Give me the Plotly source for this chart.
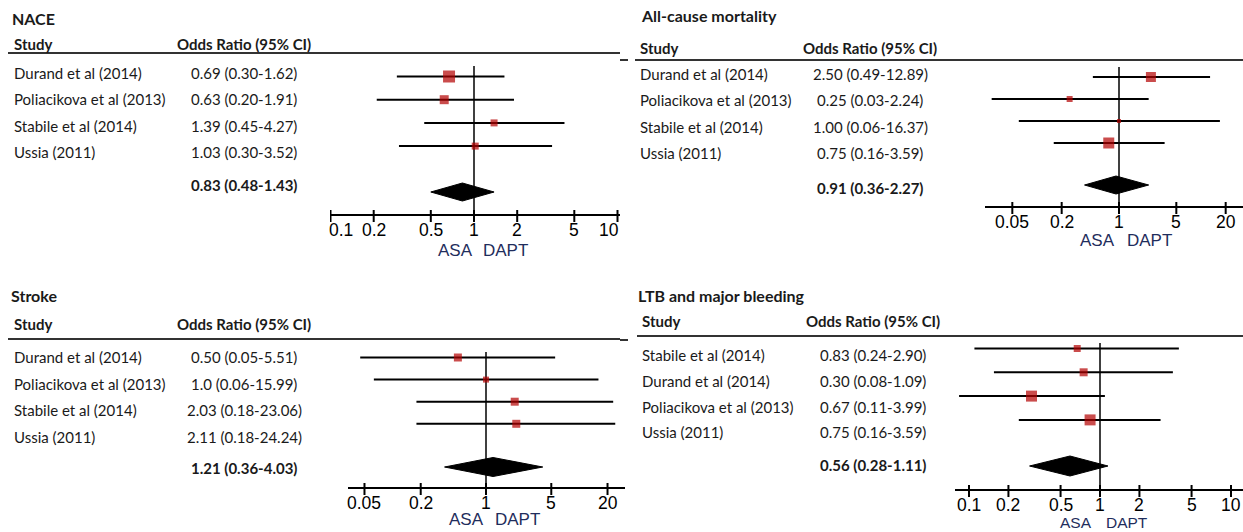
import math
import plotly.graph_objects as go

W, H = 1243, 532

# ---------------- data ----------------
tick_vals_a = [0.1, 0.2, 0.5, 1, 2, 5, 10]
tick_text_a = ["0.1", "0.2", "0.5", "1", "2", "5", "10"]
tick_vals_b = [0.05, 0.2, 1, 5, 20]
tick_text_b = ["0.05", "0.2", "1", "5", "20"]

# NACE
nace_studies = ["Durand et al (2014)", "Poliacikova et al (2013)", "Stabile et al (2014)", "Ussia (2011)"]
nace_labels = ["0.69 (0.30-1.62)", "0.63 (0.20-1.91)", "1.39 (0.45-4.27)", "1.03 (0.30-3.52)"]
nace_pooled_label = "0.83 (0.48-1.43)"
nace_or = [0.67, 0.62, 1.38, 1.02]
nace_lo = [0.29, 0.21, 0.45, 0.30]
nace_hi = [1.63, 1.90, 4.27, 3.50]
nace_pooled = [0.50, 0.83, 1.38]          # lower, estimate, upper

# All-cause mortality
mort_studies = ["Durand et al (2014)", "Poliacikova et al (2013)", "Stabile et al (2014)", "Ussia (2011)"]
mort_labels = ["2.50 (0.49-12.89)", "0.25 (0.03-2.24)", "1.00 (0.06-16.37)", "0.75 (0.16-3.59)"]
mort_pooled_label = "0.91 (0.36-2.27)"
mort_or = [2.45, 0.25, 1.00, 0.75]
mort_lo = [0.48, 0.028, 0.06, 0.16]
mort_hi = [12.9, 2.3, 17.0, 3.6]
mort_pooled = [0.38, 0.92, 2.3]

# Stroke
stroke_studies = ["Durand et al (2014)", "Poliacikova et al (2013)", "Stabile et al (2014)", "Ussia (2011)"]
stroke_labels = ["0.50 (0.05-5.51)", "1.0 (0.06-15.99)", "2.03 (0.18-23.06)", "2.11 (0.18-24.24)"]
stroke_pooled_label = "1.21 (0.36-4.03)"
stroke_or = [0.50, 1.00, 2.03, 2.11]
stroke_lo = [0.045, 0.063, 0.18, 0.18]
stroke_hi = [5.5, 16.0, 23.0, 24.2]
stroke_pooled = [0.36, 1.19, 4.05]

# LTB and major bleeding (plotted rows as drawn)
ltb_studies = ["Stabile et al (2014)", "Durand et al (2014)", "Poliacikova et al (2013)", "Ussia (2011)"]
ltb_labels = ["0.83 (0.24-2.90)", "0.30 (0.08-1.09)", "0.67 (0.11-3.99)", "0.75 (0.16-3.59)"]
ltb_pooled_label = "0.56 (0.28-1.11)"
ltb_or = [0.67, 0.75, 0.30, 0.84]
ltb_lo = [0.11, 0.155, 0.084, 0.24]
ltb_hi = [4.0, 3.6, 1.09, 2.9]
ltb_pooled = [0.29, 0.59, 1.15]

# ---------------- layout / style per panel ----------------
panels = [
    dict(title="NACE", studies=nace_studies, labels=nace_labels, pooled_label=nace_pooled_label,
         est=nace_or, lo=nace_lo, hi=nace_hi, pooled=nace_pooled,
         tv=tick_vals_a, tt=tick_text_a, sizes=[12, 9, 7, 7], end_shift=(10, -9),
         title_xy=(10, 18), study_x=12, col_cx=244, head_y=44, rule=(8, 620, 53), dash=None,
         text_y0=73, text_dy=26.3, pooled_text_y=185,
         ax_px=(330, 620), one_px=474, dec_px=143.5, axis_y=215,
         row_y0=76.5, row_dy=23.2, dia_y=192, dia_h=9, vtop=66, asa=(455, 505, 250), asa_size=17),
    dict(title="All-cause mortality", studies=mort_studies, labels=mort_labels, pooled_label=mort_pooled_label,
         est=mort_or, lo=mort_lo, hi=mort_hi, pooled=mort_pooled,
         tv=tick_vals_b, tt=tick_text_b, sizes=[10, 6, 4, 11], end_shift=(0, 0),
         title_xy=(639, 15), study_x=638, col_cx=870, head_y=48, rule=(635, 1243, 60), dash=(620, 628, 60),
         text_y0=74, text_dy=26.3, pooled_text_y=188,
         ax_px=(985, 1243), one_px=1119, dec_px=82.0, axis_y=207,
         row_y0=77, row_dy=22, dia_y=185, dia_h=9, vtop=67, asa=(1097, 1149, 240), asa_size=17),
    dict(title="Stroke", studies=stroke_studies, labels=stroke_labels, pooled_label=stroke_pooled_label,
         est=stroke_or, lo=stroke_lo, hi=stroke_hi, pooled=stroke_pooled,
         tv=tick_vals_b, tt=tick_text_b, sizes=[8, 6, 8, 8], end_shift=(0, 0),
         title_xy=(9, 295), step=None, study_x=12, col_cx=244, head_y=324, rule=(8, 620, 339), dash=None,
         text_y0=357, text_dy=26.7, pooled_text_y=468,
         ax_px=(348, 625), one_px=486, dec_px=93.4, axis_y=488,
         row_y0=357.5, row_dy=22.1, dia_y=467, dia_h=9.5, vtop=352, asa=(466, 517, 519), asa_size=17),
    dict(title="LTB and major bleeding", studies=ltb_studies, labels=ltb_labels, pooled_label=ltb_pooled_label,
         est=ltb_or, lo=ltb_lo, hi=ltb_hi, pooled=ltb_pooled,
         tv=tick_vals_a, tt=tick_text_a, sizes=[7, 8, 11, 11], end_shift=(0, 0),
         title_xy=(636, 295), study_x=640, col_cx=873, head_y=321, rule=(637, 1243, 336), dash=(620, 628, 340),
         text_y0=355, text_dy=25.8, pooled_text_y=465,
         ax_px=(955, 1243), one_px=1100, dec_px=131.0, axis_y=490,
         row_y0=348.5, row_dy=23.8, dia_y=466, dia_h=10, vtop=343, asa=(1076, 1127, 522), asa_size=15.5),
]

TEXT_FAMILY = "Lato, 'Open Sans', sans-serif"
TICK_FAMILY = "'Liberation Sans Narrow', 'Liberation Sans', Arial, sans-serif"
TEXT_COLOR = "#1a1a1a"
RED = "#B40000"
NAVY = "#1F2D5C"

fig = go.Figure()
annotations = []
shapes = []
layout_axes = {}

for i, p in enumerate(panels):
    n = i + 1
    sfx = "" if n == 1 else str(n)
    xa, ya = "x" + sfx, "y" + sfx
    l_px, r_px = p["ax_px"]
    rng = [(l_px - p["one_px"]) / p["dec_px"], (r_px - p["one_px"]) / p["dec_px"]]
    layout_axes["xaxis" + sfx] = dict(
        type="log", range=rng, domain=[l_px / W, r_px / W], anchor="free", position=1 - p["axis_y"] / H,
        showline=True, linecolor="black", linewidth=2, ticks="", showticklabels=False,
        showgrid=False, zeroline=False, fixedrange=True, automargin=False,
    )
    layout_axes["yaxis" + sfx] = dict(range=[H, 0], domain=[0, 1], anchor=xa, visible=False,
                                      fixedrange=True, automargin=False)

    rows_y = [p["row_y0"] + k * p["row_dy"] for k in range(len(p["est"]))]
    ay = p["axis_y"]

    # tick marks crossing the axis line
    tx_, ty_ = [], []
    for t in p["tv"]:
        tx_ += [t, t, None]
        ty_ += [ay - 5, ay + 7, None]
    fig.add_trace(go.Scatter(x=tx_, y=ty_, mode="lines", line=dict(color="black", width=2),
                             xaxis=xa, yaxis=ya, hoverinfo="skip", cliponaxis=False))
    # vertical line of no effect
    fig.add_trace(go.Scatter(x=[1, 1], y=[p["vtop"], ay], mode="lines",
                             line=dict(color="black", width=1.5), xaxis=xa, yaxis=ya, hoverinfo="skip"))
    # confidence intervals
    cx, cy = [], []
    for lo, hi, y in zip(p["lo"], p["hi"], rows_y):
        cx += [lo, hi, None]
        cy += [y, y, None]
    fig.add_trace(go.Scatter(x=cx, y=cy, mode="lines", line=dict(color="black", width=2),
                             xaxis=xa, yaxis=ya, hoverinfo="skip"))
    # point estimates
    fig.add_trace(go.Scatter(x=p["est"], y=rows_y, mode="markers",
                             marker=dict(symbol="square", size=p["sizes"], color=RED, line=dict(width=0)),
                             xaxis=xa, yaxis=ya, hoverinfo="skip"))
    # pooled diamond
    lo, est, hi = p["pooled"]
    dy, dh = p["dia_y"], p["dia_h"]
    fig.add_trace(go.Scatter(x=[lo, est, hi, est, lo], y=[dy, dy - dh, dy, dy + dh, dy],
                             mode="lines", fill="toself", fillcolor="black",
                             line=dict(color="black", width=1), xaxis=xa, yaxis=ya, hoverinfo="skip"))

    # tick labels
    for k, (t, lab) in enumerate(zip(p["tv"], p["tt"])):
        shift = 0
        if k == 0:
            shift = p["end_shift"][0]
        elif k == len(p["tv"]) - 1:
            shift = p["end_shift"][1]
        annotations.append(dict(x=math.log10(t), y=ay + 15, xref=xa, yref=ya, text=lab, showarrow=False,
                                xanchor="center", yanchor="middle", xshift=shift,
                                font=dict(family=TICK_FAMILY, size=17.5, color="black")))

    def ann(x, y, text, size=15, anchor="left", bold=False, color=TEXT_COLOR, family=TEXT_FAMILY):
        annotations.append(dict(
            x=x / W, y=y, xref="paper", yref="y", text=(f"<b>{text}</b>" if bold else text),
            showarrow=False, xanchor=anchor, yanchor="middle",
            font=dict(family=family, size=size, color=color)))

    tx, ty = p["title_xy"]
    ann(tx, ty, p["title"], size=16, bold=True)
    ann(p["study_x"], p["head_y"], "Study", bold=True)
    ann(p["col_cx"], p["head_y"], "Odds Ratio (95% CI)", anchor="center", bold=True)
    for k, (s, lab) in enumerate(zip(p["studies"], p["labels"])):
        y = p["text_y0"] + k * p["text_dy"]
        ann(p["study_x"], y, s)
        ann(p["col_cx"], y, lab, anchor="center")
    ann(p["col_cx"], p["pooled_text_y"], p["pooled_label"], anchor="center", bold=True)
    ax_, dx_, ay2 = p["asa"]
    ann(ax_, ay2, "ASA", anchor="center", size=p["asa_size"], color=NAVY, family=TICK_FAMILY)
    ann(dx_, ay2, "DAPT", anchor="center", size=p["asa_size"], color=NAVY, family=TICK_FAMILY)

    x0, x1, ry = p["rule"]
    shapes.append(dict(type="line", xref="paper", yref="y", x0=x0 / W, x1=x1 / W, y0=ry, y1=ry,
                       line=dict(color="#333333", width=2)))
    if p["dash"]:
        d0, d1, dyy = p["dash"]
        shapes.append(dict(type="line", xref="paper", yref="y", x0=d0 / W, x1=d1 / W, y0=dyy, y1=dyy,
                           line=dict(color="#333333", width=2)))

fig.update_layout(
    width=W, height=H,
    margin=dict(l=0, r=0, t=0, b=0, pad=0, autoexpand=False),
    paper_bgcolor="white", plot_bgcolor="rgba(0,0,0,0)",
    showlegend=False,
    annotations=annotations,
    shapes=shapes,
    **layout_axes,
)

fig.write_html("out.html", config={"displayModeBar": False},
               post_script="document.body.style.margin='0px'; document.body.style.overflow='hidden';")
